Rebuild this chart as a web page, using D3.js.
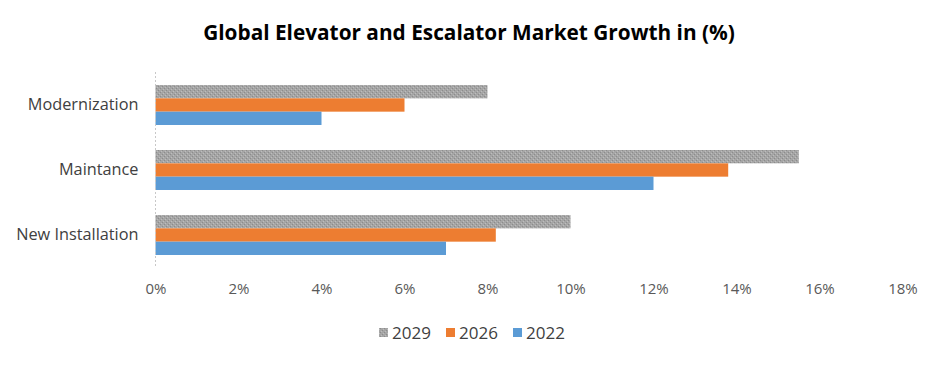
<!DOCTYPE html>
<html><head><meta charset="utf-8">
<script src="https://cdn.jsdelivr.net/npm/d3@7"></script>
<style>body{margin:0;background:#fff}svg{display:block}</style>
</head><body>
<script>
const categories = ["Modernization", "Maintance", "New Installation"];
const seriesNames = ["2029", "2026", "2022"];
const values2029 = [8, 15.5, 10];
const values2026 = [6, 13.8, 8.2];
const values2022 = [4, 12, 7];
const tickValues = [0, 2, 4, 6, 8, 10, 12, 14, 16, 18];
const seriesValues = [values2029, values2026, values2022];
const colors = ["url(#grayPat)", "#ed7d31", "#5b9bd5"];

const W = 938, H = 365;
const svg = d3.select("body").append("svg").attr("width", W).attr("height", H);
const defs = svg.append("defs");
const pat = defs.append("pattern").attr("id", "grayPat").attr("patternUnits", "userSpaceOnUse")
  .attr("width", 4).attr("height", 4);
pat.append("rect").attr("width", 4).attr("height", 4).attr("fill", "#a5a5a5");
pat.append("rect").attr("x", 0).attr("y", 0).attr("width", 1).attr("height", 1).attr("fill", "#8c8c8c");
pat.append("rect").attr("x", 2).attr("y", 2).attr("width", 1).attr("height", 1).attr("fill", "#8c8c8c");
pat.append("rect").attr("x", 1).attr("y", 3).attr("width", 1).attr("height", 1).attr("fill", "#bdbdbd");
pat.append("rect").attr("x", 3).attr("y", 1).attr("width", 1).attr("height", 1).attr("fill", "#bdbdbd");

const font = "'Open Sans', 'Liberation Sans', sans-serif";
const x = d3.scaleLinear().domain([0, 18]).range([155.5, 902.5]);
const y = d3.scaleBand().domain(categories).range([72.5, 267.5]).paddingInner(0.385).paddingOuter(0.1925);
const ySub = d3.scaleBand().domain(seriesNames).range([0, y.bandwidth()]);

svg.append("text").attr("x", 469).attr("y", 40).attr("text-anchor", "middle")
  .attr("font-family", font).attr("font-weight", "bold").attr("font-size", 20.8)
  .attr("fill", "#000").text("Global Elevator and Escalator Market Growth in (%)");

// bars
seriesNames.forEach((s, si) => {
  svg.append("g").selectAll("rect").data(categories).join("rect")
    .attr("x", x(0))
    .attr("y", (c) => y(c) + ySub(s))
    .attr("width", (c, i) => x(seriesValues[si][i]) - x(0))
    .attr("height", ySub.bandwidth())
    .attr("fill", colors[si]);
});

// vertical axis line
svg.append("line").attr("x1", x(0)).attr("x2", x(0)).attr("y1", 72).attr("y2", 268)
  .attr("stroke", "#c8c8c8").attr("stroke-width", 1).attr("stroke-dasharray", "2,2");

// x axis ticks
const xAxis = d3.axisBottom(x).tickValues(tickValues).tickSize(0).tickFormat(d => d + "%");
const gx = svg.append("g").attr("transform", "translate(0,280)").call(xAxis);
gx.select(".domain").remove();
gx.selectAll("text").attr("font-family", font).attr("font-size", 15).attr("fill", "#595959").attr("dy", "0.71em");

// y axis labels
const yAxis = d3.axisLeft(y).tickSize(0).tickPadding(17);
const gy = svg.append("g").attr("transform", `translate(${x(0)},0)`).call(yAxis);
gy.select(".domain").remove();
gy.selectAll("text").attr("font-family", font).attr("font-size", 16.3).attr("fill", "#404040");

// legend
const legendX = [379, 446, 513];
const lg = svg.append("g");
seriesNames.forEach((s, i) => {
  lg.append("rect").attr("x", legendX[i]).attr("y", 328).attr("width", 9).attr("height", 9).attr("fill", colors[i]);
  lg.append("text").attr("x", legendX[i] + 13).attr("y", 339).attr("font-family", font)
    .attr("font-size", 17).attr("fill", "#404040").text(s);
});
</script>
</body></html>
